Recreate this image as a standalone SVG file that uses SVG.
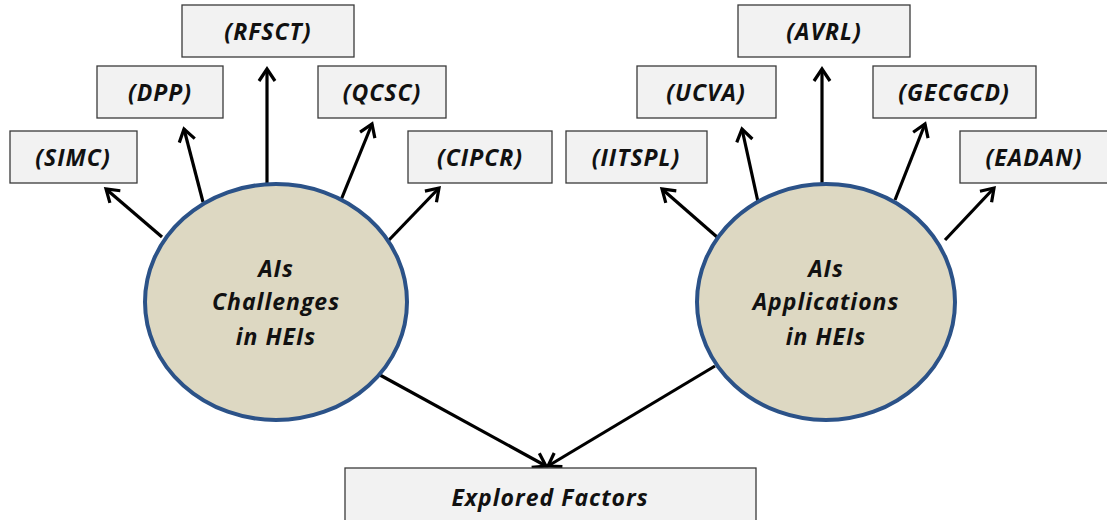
<svg xmlns="http://www.w3.org/2000/svg" width="1107" height="520" viewBox="0 0 1107 520">
<style>
.box{fill:#f2f2f2;stroke:#3a3a3a;stroke-width:1.3}
.hub{fill:#ddd8c2;stroke:#2b5288;stroke-width:4}
.t{font-family:"Open Sans","Noto Sans","Liberation Sans",sans-serif;font-weight:bold;font-style:italic;font-size:23px;letter-spacing:1px;fill:#111;text-anchor:middle}
.c{stroke:#000;stroke-width:3.2;fill:none;marker-end:url(#ah)}
</style>
<defs>
<marker id="ah" markerUnits="userSpaceOnUse" markerWidth="30" markerHeight="30" refX="0" refY="0" viewBox="-15 -15 30 30" orient="auto">
<path d="M-12,-8 L0,0 L-12,8" fill="none" stroke="#000" stroke-width="3.2"/>
</marker>
</defs>
<g id="connectors">
<line class="c" x1="162" y1="237" x2="106" y2="189"/>
<line class="c" x1="203" y1="202" x2="184" y2="129"/>
<line class="c" x1="267" y1="183" x2="267" y2="69"/>
<line class="c" x1="341" y1="200" x2="372" y2="124"/>
<line class="c" x1="389" y1="240" x2="439" y2="188"/>
<line class="c" x1="717" y1="237" x2="662" y2="189"/>
<line class="c" x1="758" y1="202" x2="742" y2="129"/>
<line class="c" x1="822" y1="183" x2="822" y2="69"/>
<line class="c" x1="895" y1="200" x2="925" y2="124"/>
<line class="c" x1="945" y1="240" x2="994" y2="188"/>
<line class="c" x1="380" y1="375" x2="546" y2="466"/>
<line class="c" x1="715" y1="366" x2="548" y2="466"/>
</g>
<g id="hub-challenges"><ellipse class="hub" cx="276" cy="302" rx="131" ry="118"/>
<text class="t" x="276" y="277">AIs</text><text class="t" x="276" y="310">Challenges</text><text class="t" x="276" y="345">in HEIs</text></g>
<g id="hub-applications"><ellipse class="hub" cx="826" cy="302" rx="129" ry="118"/>
<text class="t" x="826" y="277">AIs</text><text class="t" x="826" y="310">Applications</text><text class="t" x="826" y="345">in HEIs</text></g>
<g id="n-simc"><rect class="box" x="10" y="131" width="127" height="52"/><text class="t" x="73" y="166">(SIMC)</text></g>
<g id="n-dpp"><rect class="box" x="97" y="66" width="126" height="52"/><text class="t" x="160" y="101">(DPP)</text></g>
<g id="n-rfsct"><rect class="box" x="182" y="5" width="172" height="52"/><text class="t" x="268" y="40">(RFSCT)</text></g>
<g id="n-qcsc"><rect class="box" x="318" y="66" width="128" height="52"/><text class="t" x="382" y="101">(QCSC)</text></g>
<g id="n-cipcr"><rect class="box" x="408" y="131" width="144" height="52"/><text class="t" x="480" y="166">(CIPCR)</text></g>
<g id="n-iitspl"><rect class="box" x="566" y="131" width="141" height="52"/><text class="t" x="636" y="166">(IITSPL)</text></g>
<g id="n-ucva"><rect class="box" x="637" y="66" width="139" height="52"/><text class="t" x="706" y="101">(UCVA)</text></g>
<g id="n-avrl"><rect class="box" x="738" y="5" width="172" height="52"/><text class="t" x="824" y="40">(AVRL)</text></g>
<g id="n-gecgcd"><rect class="box" x="873" y="66" width="163" height="52"/><text class="t" x="954" y="101">(GECGCD)</text></g>
<g id="n-eadan"><rect class="box" x="960" y="131" width="150" height="52"/><text class="t" x="1034" y="166">(EADAN)</text></g>
<g id="n-explored"><rect class="box" x="345" y="468" width="411" height="60"/><text class="t" x="550" y="506">Explored Factors</text></g>
</svg>
